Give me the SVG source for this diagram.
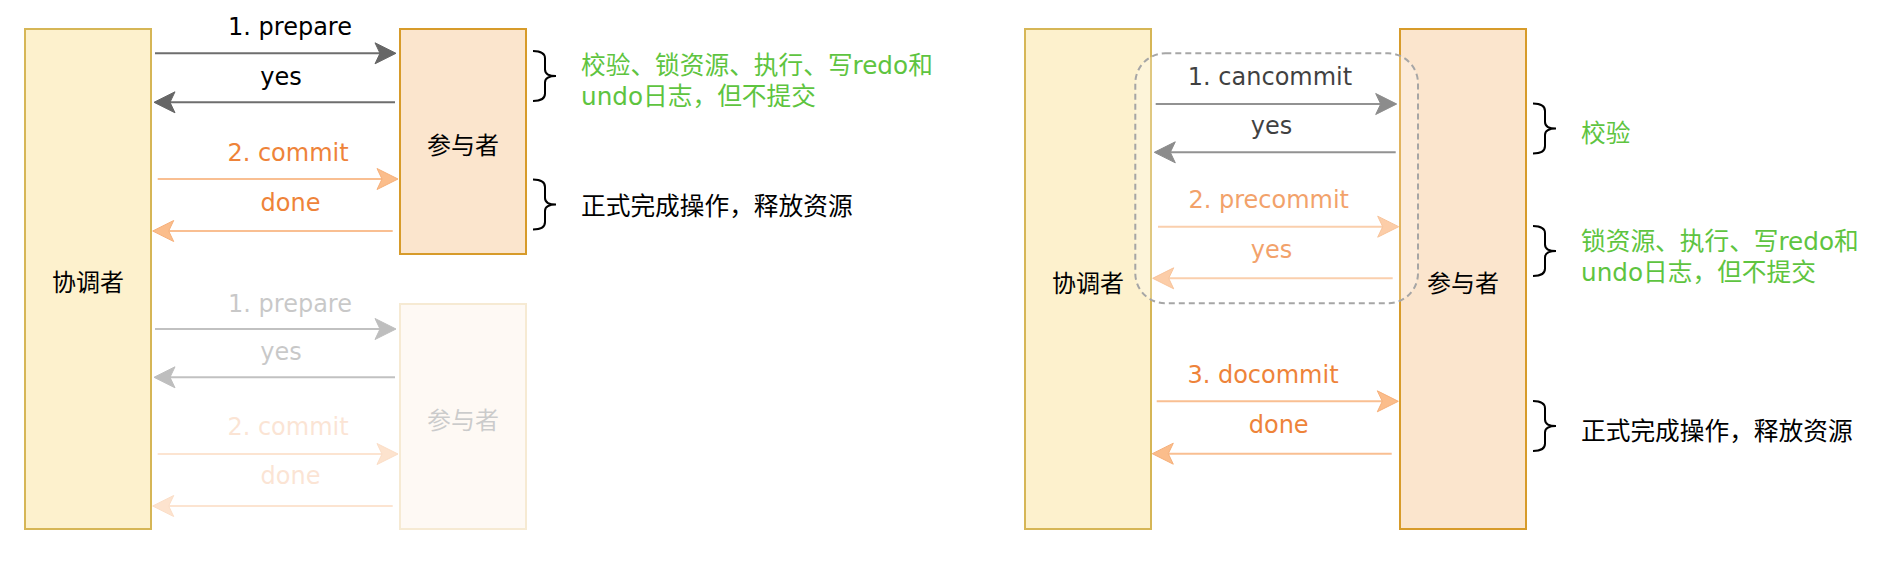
<svg xmlns="http://www.w3.org/2000/svg" width="1892" height="562" viewBox="0 0 1892 562">
<style>
text{font-family:"DejaVu Sans","Noto Sans CJK SC",sans-serif;font-size:24px;}
.n{font-size:24.7px;}
.c{text-anchor:middle;}
.k{fill:#000;}
.o{fill:#ee8339;}
.gr{fill:#5ec440;}
.coord{fill:#fdf1cd;stroke:#d6b656;stroke-width:2;}
.part{fill:#fbe5cd;stroke:#d79b2a;stroke-width:2;}
.ag{stroke:#6e6e6e;stroke-width:2;fill:none;marker-end:url(#mg);}
.ao{stroke:#f9bf92;stroke-width:2;fill:none;marker-end:url(#mo);}
.brace{fill:none;stroke:#000;stroke-width:2;}
</style>
<defs>
<marker id="mg" viewBox="-6 -12 23 24" markerWidth="23" markerHeight="24" refX="0" refY="0" orient="auto" markerUnits="userSpaceOnUse" overflow="visible">
<path d="M16,0 L-5,-10.5 L0,0 L-5,10.5 Z" fill="#666" stroke="#666" stroke-width="1"/>
</marker>
<marker id="mo" viewBox="-6 -12 23 24" markerWidth="23" markerHeight="24" refX="0" refY="0" orient="auto" markerUnits="userSpaceOnUse" overflow="visible">
<path d="M16,0 L-5,-10.5 L0,0 L-5,10.5 Z" fill="#fbbd8b" stroke="#f6b07a" stroke-width="1"/>
</marker>
<path id="br" class="brace" d="M0,0.5 C7,0.5 12,2 12,8 L12,19 C12,23.5 16,25.5 23,25.5 C16,25.5 12,27.5 12,32 L12,43 C12,49 7,50.5 0,50.5"/>
</defs>

<g id="coord-left">
<rect class="coord" x="25" y="29" width="126" height="500"/>
<text class="c k" x="88" y="291">协调者</text>
</g>
<g id="participant-left-1">
<rect class="part" x="400" y="29" width="126" height="225"/>
<text class="c k" x="463" y="154">参与者</text>
</g>
<g id="participant-left-2" opacity="0.2">
<rect class="part" x="400" y="304" width="126" height="225"/>
<text class="c k" x="463" y="429">参与者</text>
</g>
<g id="coord-right">
<rect class="coord" x="1025" y="29" width="126" height="500"/>
<text class="c k" x="1088" y="292">协调者</text>
</g>
<g id="participant-right">
<rect class="part" x="1400" y="29" width="126" height="500"/>
<text class="c k" x="1463" y="292">参与者</text>
</g>

<g id="connectors">
<line class="ag" x1="155" y1="53.3" x2="380" y2="53.3"/>
<line class="ag" x1="395" y1="102.3" x2="170" y2="102.3"/>
<line class="ao" x1="157.7" y1="179" x2="382" y2="179"/>
<line class="ao" x1="392.7" y1="231" x2="168.7" y2="231"/>
<text class="c k" x="290" y="35">1. prepare</text>
<text class="c k" x="281" y="84.5">yes</text>
<text class="c o" x="288" y="161">2. commit</text>
<text class="c o" x="290.5" y="210.5">done</text>

<g opacity="0.42">
<line class="ag" x1="155" y1="329" x2="380" y2="329"/>
<line class="ag" x1="395" y1="377.3" x2="170" y2="377.3"/>
<line class="ao" x1="157.7" y1="454" x2="382" y2="454"/>
<line class="ao" x1="392.7" y1="506" x2="168.7" y2="506"/>
</g>
<g opacity="0.21">
<text class="c k" x="290" y="311.7">1. prepare</text>
<text class="c k" x="281" y="360">yes</text>
<text class="c o" x="288" y="435">2. commit</text>
<text class="c o" x="290.5" y="484">done</text>
</g>

<line class="ag" x1="1155.7" y1="104" x2="1380.7" y2="104"/>
<line class="ag" x1="1395.7" y1="152.3" x2="1170.3" y2="152.3"/>
<line class="ao" x1="1158" y1="226.7" x2="1382.7" y2="226.7"/>
<line class="ao" x1="1392.7" y1="278.3" x2="1168.7" y2="278.3"/>
<line class="ao" x1="1156.7" y1="401.3" x2="1382.3" y2="401.3"/>
<line class="ao" x1="1391.7" y1="453.7" x2="1168.3" y2="453.7"/>
<text class="c k" x="1270" y="85">1. cancommit</text>
<text class="c k" x="1271.5" y="134">yes</text>
<text class="c o" x="1268.7" y="208">2. precommit</text>
<text class="c o" x="1271.5" y="258">yes</text>
<text class="c o" x="1263" y="382.7">3. docommit</text>
<text class="c o" x="1278.7" y="432.7">done</text>
</g>

<g id="phase-group">
<rect x="1135.3" y="53.3" width="282.7" height="250" rx="30" ry="30" fill="#ffffff" fill-opacity="0.25" stroke="#a6a6a6" stroke-width="2" stroke-dasharray="6 4"/>
</g>

<g id="notes-left">
<use href="#br" x="533" y="50.5"/>
<text class="gr n" x="581" y="74">校验、锁资源、执行、写redo和</text>
<text class="gr n" x="581" y="105">undo日志，但不提交</text>
<use href="#br" x="533" y="179"/>
<text class="k n" x="581" y="214.7">正式完成操作，释放资源</text>
</g>
<g id="notes-right">
<use href="#br" x="1533" y="103"/>
<text class="gr n" x="1581" y="141.5">校验</text>
<use href="#br" x="1533" y="225.5"/>
<text class="gr n" x="1581" y="250">锁资源、执行、写redo和</text>
<text class="gr n" x="1581" y="281">undo日志，但不提交</text>
<use href="#br" x="1533" y="400.5"/>
<text class="k n" x="1581" y="439.5">正式完成操作，释放资源</text>
</g>
</svg>
